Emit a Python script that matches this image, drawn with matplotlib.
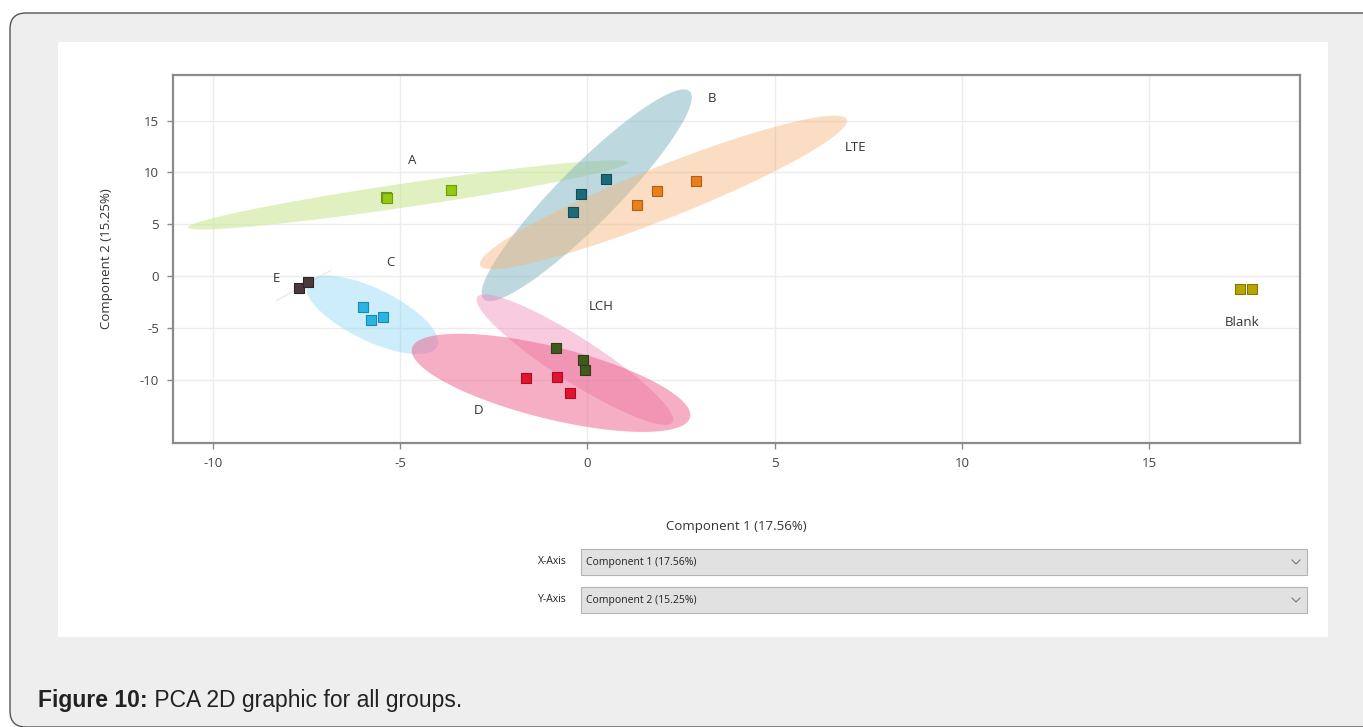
import numpy as np
import matplotlib
matplotlib.use("Agg")
import matplotlib.pyplot as plt
from matplotlib.patches import FancyBboxPatch, Rectangle

plt.rcParams["axes.unicode_minus"] = False

# PCA scores per group (component 1, component 2)
groups = ["A", "B", "LTE", "C", "D", "LCH", "E", "Blank"]
pc1 = {
    "A": [-5.38, -5.35, -3.65],
    "B": [0.49, -0.17, -0.38],
    "LTE": [1.32, 1.86, 2.90],
    "C": [-6.00, -5.79, -5.47],
    "D": [-1.64, -0.81, -0.47],
    "LCH": [-0.84, -0.11, -0.06],
    "E": [-7.70, -7.46],
    "Blank": [17.43, 17.75],
}
pc2 = {
    "A": [7.65, 7.50, 8.35],
    "B": [9.36, 7.89, 6.15],
    "LTE": [6.85, 8.20, 9.17],
    "C": [-3.02, -4.25, -3.93],
    "D": [-9.87, -9.78, -11.23],
    "LCH": [-6.98, -8.11, -9.07],
    "E": [-1.19, -0.61],
    "Blank": [-1.25, -1.25],
}

# confidence ellipse half-axes (conjugate vectors in score units)
ell_u = {
    "A": (5.876, 3.137),
    "B": (2.751, 10.02),
    "LTE": (4.896, 7.027),
    "C": (1.736, -3.04),
    "D": (3.713, -3.33),
    "LCH": (2.604, -6.033),
    "E": (0.721, 1.448),
}
ell_v = {
    "A": (0.047, -1.14),
    "B": (0.55, -1.97),
    "LTE": (0.256, -2.33),
    "C": (-0.303, -2.258),
    "D": (-0.232, -3.37),
    "LCH": (-0.317, -1.787),
    "E": (0.0, 0.0),
}

# where the group names sit
label_x = {"A": -4.68, "B": 3.33, "LTE": 7.15, "C": -5.27, "D": -2.92,
           "LCH": 0.36, "E": -8.32, "Blank": 17.49}
label_y = {"A": 11.2, "B": 17.1, "LTE": 12.45, "C": 1.35, "D": -12.93,
           "LCH": -2.9, "E": -0.19, "Blank": -4.44}

point_color = {"A": "#95c812", "B": "#1b6b78", "LTE": "#ea7f1c", "C": "#2ab4e6",
               "D": "#e3122f", "LCH": "#3f5a1c", "E": "#4b3a3b", "Blank": "#b9a500"}
edge_color = {"A": "#6e9a10", "B": "#134e58", "LTE": "#b35f12", "C": "#1d87ad",
              "D": "#a80d23", "LCH": "#2c4013", "E": "#2f2425", "Blank": "#857700"}
fill_color = {"A": "#c7e58f", "B": "#7fb3c0", "LTE": "#f4b47a", "C": "#8fd8f2",
              "D": "#ee5f8a", "LCH": "#f08cb8"}
fill_alpha = {"A": 0.55, "B": 0.5, "LTE": 0.45, "C": 0.45, "D": 0.5, "LCH": 0.45}

W, H = 1363, 727
fig = plt.figure(figsize=(W / 100, H / 100), dpi=100, facecolor="white")

# page background, drawn in pixel units
bg = fig.add_axes([0, 0, 1, 1], zorder=0)
bg.set_xlim(0, W)
bg.set_ylim(H, 0)
bg.axis("off")
bg.add_patch(FancyBboxPatch((10, 13), 1420, 714,
                            boxstyle="round,pad=0,rounding_size=16",
                            fc="#eeeeee", ec="#555555", lw=1.0))
bg.add_patch(Rectangle((58, 42), 1270, 595, fc="white", ec="none"))

# axis selectors under the plot
ui_font = dict(family="Open Sans", size=7.5, color="#222222")
for row_y, name, comp in [(562, "X-Axis", "Component 1 (17.56%)"),
                          (600, "Y-Axis", "Component 2 (15.25%)")]:
    bg.add_patch(Rectangle((581, row_y - 13), 726, 26, fc="#e1e1e1",
                           ec="#b4b4b4", lw=0.8))
    bg.text(567, row_y, name, ha="right", va="center", **ui_font)
    bg.text(586, row_y, comp, ha="left", va="center", **ui_font)
    bg.plot([1292, 1296, 1300], [row_y - 2, row_y + 2, row_y - 2],
            color="#777777", lw=0.8)

# caption
cap = bg.text(38, 700, "Figure 10:", ha="left", va="center",
              family="Liberation Sans", weight="bold", size=16.5, color="#222222")
bg.annotate(" PCA 2D graphic for all groups.", xy=(1, 0.5), xycoords=cap,
            ha="left", va="center", family="Liberation Sans", size=16.5,
            color="#222222")

# score plot
ax = fig.add_axes([173 / W, 1 - 443 / H, (1300 - 173) / W, (443 - 75) / H], zorder=1)
ax.set_xlim(-11.07, 19.03)
ax.set_ylim(-16.1, 19.4)
ax.set_xticks([-10, -5, 0, 5, 10, 15])
ax.set_yticks([-10, -5, 0, 5, 10, 15])
ax.grid(True, color="#ececec", lw=1.0)
ax.set_axisbelow(True)
for s in ax.spines.values():
    s.set_color("#8a8a8a")
    s.set_linewidth(1.6)
ax.tick_params(length=4, width=1, color="#8a8a8a", labelsize=9.5,
               labelcolor="#444444", pad=6)
for lab in ax.get_xticklabels() + ax.get_yticklabels():
    lab.set_family("Open Sans")

t = np.linspace(0, 2 * np.pi, 300)
for g in ["A", "B", "LTE", "C", "LCH", "D"]:
    cx, cy = np.mean(pc1[g]), np.mean(pc2[g])
    ux, uy = ell_u[g]
    vx, vy = ell_v[g]
    ax.fill(cx + ux * np.cos(t) + vx * np.sin(t),
            cy + uy * np.cos(t) + vy * np.sin(t),
            color=fill_color[g], alpha=fill_alpha[g], lw=0, zorder=2)

# two-point group collapses to a segment
cx, cy = np.mean(pc1["E"]), np.mean(pc2["E"])
ux, uy = ell_u["E"]
ax.plot([cx - ux, cx + ux], [cy - uy, cy + uy], color="#b0b0b0", lw=1,
        alpha=0.25, zorder=2)

for g in groups:
    ax.scatter(pc1[g], pc2[g], marker="s", s=60, c=point_color[g],
               edgecolors=edge_color[g], linewidths=0.8, zorder=3)
    ax.text(label_x[g], label_y[g], g, ha="center", va="center",
            family="Open Sans", size=9.5, color="#333333", zorder=4)

ax.set_xlabel("Component 1 (17.56%)", family="Open Sans", size=9.5,
              color="#333333", labelpad=36)
ax.set_ylabel("Component 2 (15.25%)", family="Open Sans", size=9.5,
              color="#333333", labelpad=19)

fig.savefig("out.png", dpi=100, facecolor="white")
